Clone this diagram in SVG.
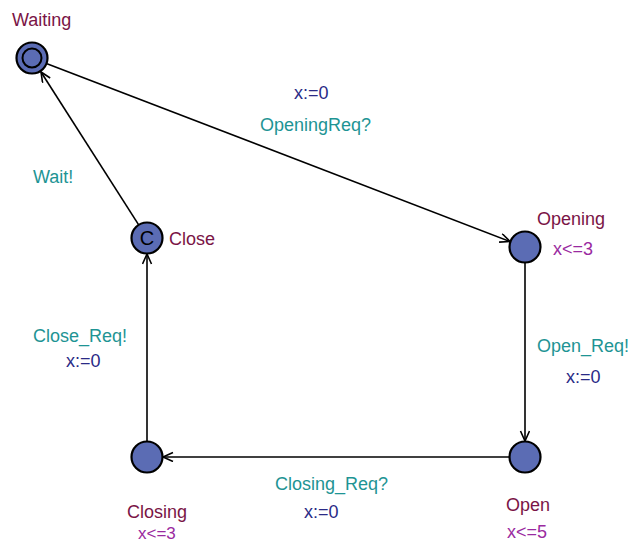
<svg xmlns="http://www.w3.org/2000/svg" width="630" height="542" viewBox="0 0 630 542">
<style>
text{font-family:"Liberation Sans",Arial,sans-serif;font-size:18px}
.name{fill:#7a1446}
.inv{fill:#9a2aa0}
.sync{fill:#1e9494}
.asg{fill:#2a2a86}
.loc{fill:#5b6cb4;stroke:#000;stroke-width:2.2}
.edge{stroke:#000;stroke-width:1.6;fill:none;marker-end:url(#arr)}
</style>
<defs>
<marker id="arr" markerUnits="userSpaceOnUse" markerWidth="14" markerHeight="12" refX="11" refY="5" orient="auto">
<path d="M1,0.5 L11,5 L1,9.5" fill="none" stroke="#000" stroke-width="1.6"/>
</marker>
</defs>
<rect width="630" height="542" fill="#fff"/>
<g id="edges">
<line class="edge" x1="47" y1="63.7" x2="510" y2="241.5"/>
<line class="edge" x1="139" y1="225.4" x2="41" y2="72"/>
<line class="edge" x1="525" y1="263" x2="525" y2="441"/>
<line class="edge" x1="509" y1="457" x2="163" y2="457"/>
<line class="edge" x1="147" y1="441" x2="147" y2="254"/>
<text class="asg" x="294" y="99">x:=0</text>
<text class="sync" x="260" y="131">OpeningReq?</text>
<text class="sync" x="33" y="183">Wait!</text>
<text class="sync" x="33" y="342">Close_Req!</text>
<text class="asg" x="66" y="367">x:=0</text>
<text class="sync" x="537" y="352">Open_Req!</text>
<text class="asg" x="566" y="383">x:=0</text>
<text class="sync" x="275" y="490">Closing_Req?</text>
<text class="asg" x="304" y="518">x:=0</text>
</g>
<g id="Waiting">
<circle class="loc" cx="32" cy="58" r="15.5"/>
<circle cx="32" cy="58" r="9.5" fill="none" stroke="#000" stroke-width="2"/>
<text class="name" x="12" y="26">Waiting</text>
</g>
<g id="Close">
<circle class="loc" cx="147" cy="238" r="15.5"/>
<text x="147" y="245" text-anchor="middle" style="font-size:20px" fill="#000">C</text>
<text class="name" x="169" y="245">Close</text>
</g>
<g id="Opening">
<circle class="loc" cx="525" cy="247" r="15.5"/>
<text class="name" x="537" y="225">Opening</text>
<text class="inv" x="553" y="255">x&lt;=3</text>
</g>
<g id="Closing">
<circle class="loc" cx="147" cy="457" r="15.5"/>
<text class="name" x="127" y="518">Closing</text>
<text class="inv" x="138" y="539" style="font-size:17px">x&lt;=3</text>
</g>
<g id="Open">
<circle class="loc" cx="525" cy="457" r="15.5"/>
<text class="name" x="506" y="511">Open</text>
<text class="inv" x="507" y="538">x&lt;=5</text>
</g>
</svg>
